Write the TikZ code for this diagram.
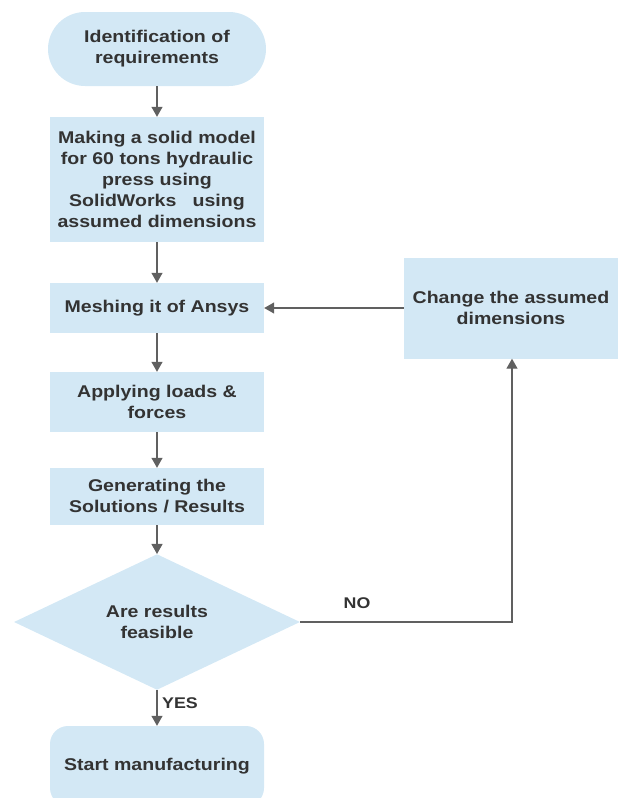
\documentclass[tikz,border=0pt]{standalone}
\usepackage{fontspec}
\setmainfont{Liberation Sans}
\newfontfamily\widefont[FakeStretch=1.15]{Liberation Sans}
\usetikzlibrary{arrows.meta,shapes.geometric}
\definecolor{boxfill}{HTML}{D3E8F5}
\definecolor{linec}{HTML}{606060}
\definecolor{txt}{HTML}{333333}
\tikzset{
  every node/.style={font=\widefont\fontsize{17}{21}\selectfont\bfseries, text=txt, align=center},
  procbox/.style={fill=boxfill, draw=none, minimum width=214pt, inner sep=0pt},
  conn/.style={draw=linec, line width=1.2pt, -{Triangle[length=10pt,width=11pt]}},
  lbl/.style={font=\widefont\fontsize{15.5}{18}\selectfont\bfseries, inner sep=0pt}
}
\begin{document}
\begin{tikzpicture}[x=1pt,y=-1pt]
\useasboundingbox (0,0) rectangle (618,798);
\node[procbox, minimum width=218pt, minimum height=74pt, rounded corners=37pt] (start) at (157,49) {Identification of\\requirements};
\node[procbox, minimum height=125pt] (model) at (157,179.5) {Making a solid model\\for 60 tons hydraulic\\press using\\SolidWorks\ \ \ using\\assumed dimensions};
\node[procbox, minimum height=50pt] (mesh) at (157,308) {Meshing it of Ansys};
\node[procbox, minimum height=60pt] (load) at (157,402) {Applying loads \&\\forces};
\node[procbox, minimum height=57pt] (gen) at (157,496.5) {Generating the\\Solutions / Results};
\node[diamond, fill=boxfill, inner sep=0pt, minimum width=286pt, minimum height=133pt] (dec) at (157,622) {Are results\\feasible};
\node[procbox, minimum height=80pt, rounded corners=18pt] (end) at (157,766) {Start manufacturing};
\node[procbox, minimum height=101pt] (chg) at (511,308) {Change the assumed\\dimensions};
\coordinate (corner) at (512,622);
\draw[conn] (start) -- (model);
\draw[conn] (model) -- (mesh);
\draw[conn] (mesh) -- (load);
\draw[conn] (load) -- (gen);
\draw[conn] (gen) -- (dec);
\draw[conn] (dec) -- (end);
\draw[conn] (chg.west) -- (mesh.east);
\draw[conn] (dec.east) -- (corner) -- (chg.south -| corner);
\node[lbl, anchor=west] (yes) at (162,703) {YES};
\node[lbl] (no) at (357,603) {NO};
\end{tikzpicture}
\end{document}
